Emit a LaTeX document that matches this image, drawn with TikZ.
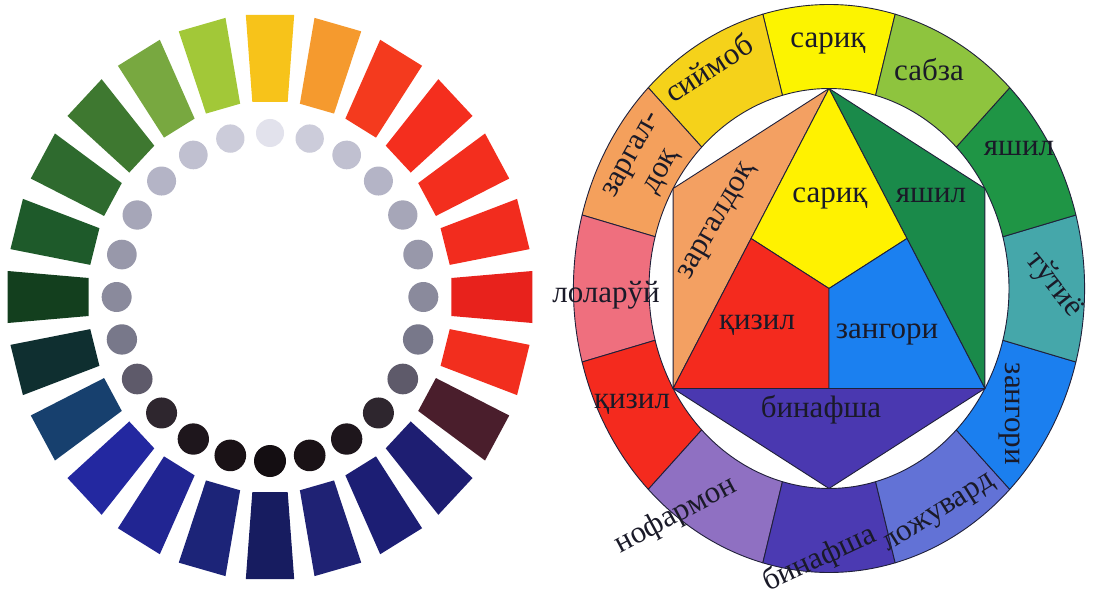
\documentclass[tikz,border=0pt]{standalone}
\usepackage{fontspec}
\setmainfont{Liberation Serif}
\usetikzlibrary{calc}
% left wheel blocks (clockwise from top)
\definecolor{lb0}{HTML}{F7C31A}
\definecolor{lb1}{HTML}{F59A2E}
\definecolor{lb2}{HTML}{F43A1E}
\definecolor{lb3}{HTML}{F42E1E}
\definecolor{lb4}{HTML}{F32E1E}
\definecolor{lb5}{HTML}{F22C1E}
\definecolor{lb6}{HTML}{E8221C}
\definecolor{lb7}{HTML}{F22E1E}
\definecolor{lb8}{HTML}{4A1E2C}
\definecolor{lb9}{HTML}{1E1E72}
\definecolor{lb10}{HTML}{1C1E74}
\definecolor{lb11}{HTML}{1F2274}
\definecolor{lb12}{HTML}{171C60}
\definecolor{lb13}{HTML}{1C2478}
\definecolor{lb14}{HTML}{212592}
\definecolor{lb15}{HTML}{2328A0}
\definecolor{lb16}{HTML}{17406E}
\definecolor{lb17}{HTML}{0F2F30}
\definecolor{lb18}{HTML}{133F1E}
\definecolor{lb19}{HTML}{1E5A2A}
\definecolor{lb20}{HTML}{2E6A2E}
\definecolor{lb21}{HTML}{3E7830}
\definecolor{lb22}{HTML}{78A840}
\definecolor{lb23}{HTML}{A2C838}
% dots
\definecolor{dk0}{HTML}{E2E2EC}
\definecolor{dk1}{HTML}{CCCCDA}
\definecolor{dk2}{HTML}{C0C0D0}
\definecolor{dk3}{HTML}{B4B4C6}
\definecolor{dk4}{HTML}{A6A6B8}
\definecolor{dk5}{HTML}{9898AA}
\definecolor{dk6}{HTML}{8A8A9C}
\definecolor{dk7}{HTML}{78788A}
\definecolor{dk8}{HTML}{5E5A6A}
\definecolor{dk9}{HTML}{2E262E}
\definecolor{dk10}{HTML}{1E161C}
\definecolor{dk11}{HTML}{1A1216}
\definecolor{dk12}{HTML}{140E12}
% right wheel
\definecolor{rYel}{HTML}{FCF400}
\definecolor{rGold}{HTML}{F5D21A}
\definecolor{rOra}{HTML}{F4A05C}
\definecolor{rPink}{HTML}{EF6F7E}
\definecolor{rRed}{HTML}{F42A1E}
\definecolor{rNof}{HTML}{8F70C2}
\definecolor{rPur}{HTML}{4B3AB2}
\definecolor{rLoj}{HTML}{6272D6}
\definecolor{rBlue}{HTML}{1B7FEF}
\definecolor{rTeal}{HTML}{45A7AA}
\definecolor{rGrn}{HTML}{1F9545}
\definecolor{rSab}{HTML}{8EC43E}
\definecolor{iYel}{HTML}{FFF200}
\definecolor{iRed}{HTML}{F42A1E}
\definecolor{iBlue}{HTML}{1B80F0}
\definecolor{iOra}{HTML}{F3A062}
\definecolor{iGrn}{HTML}{1A8A4A}
\definecolor{iPur}{HTML}{4A38B0}
\definecolor{edge}{HTML}{20203A}
\definecolor{txt}{HTML}{1A1A28}
\begin{document}
\begin{tikzpicture}[x=1pt,y=1pt,
  lab/.style={font=\fontsize{31}{36}\selectfont, inner sep=0pt, text height=0.68em, text depth=0.22em, text=txt},
  seg/.style={draw=edge, line width=0.9pt, line join=round}]
\useasboundingbox (0,0) rectangle (1094,598);
\fill[white] (0,0) rectangle (1094,598);
% ---------- left wheel ----------
\begin{scope}[shift={(270,301)}, xscale=0.93]
  \foreach \i in {0,...,23} {
    \begin{scope}[rotate={90-15*\i}]
      \fill[lb\i] (195,-19) -- (282,-26) -- (282,26) -- (195,19) -- cycle;
    \end{scope}
  }
\end{scope}
\foreach \i in {0,...,23} {
  \pgfmathtruncatemacro\k{min(\i,24-\i)}
  \fill[dk\k] ({270+0.935*164*cos(90-15*\i)},{301+164*sin(90-15*\i)}) circle ({14+2*\k/12});
}
% ---------- right wheel ----------
\begin{scope}[shift={(829,309.5)}, xscale=0.9]
  \foreach \a/\c in {90/rYel,120/rGold,150/rOra,180/rPink,210/rRed,240/rNof,270/rPur,300/rLoj,330/rBlue,0/rTeal,30/rGrn,60/rSab} {
    \filldraw[seg, fill=\c] ({\a-15}:284) arc[start angle={\a-15}, end angle={\a+15}, radius=284]
      -- ({\a+15}:200) arc[start angle={\a+15}, end angle={\a-15}, radius=200] -- cycle;
  }
  \coordinate (T) at (90:200);
  \coordinate (UL) at (150:200);
  \coordinate (LL) at (210:200);
  \coordinate (B) at (270:200);
  \coordinate (LR) at (330:200);
  \coordinate (UR) at (30:200);
  \coordinate (C) at (0,0);
  \coordinate (mL) at ($(T)!0.5!(LL)$);
  \coordinate (mR) at ($(T)!0.5!(LR)$);
  \coordinate (mB) at ($(LL)!0.5!(LR)$);
  \filldraw[seg, fill=iOra] (T) -- (UL) -- (LL) -- cycle;
  \filldraw[seg, fill=iGrn] (T) -- (UR) -- (LR) -- cycle;
  \filldraw[seg, fill=iPur] (LL) -- (B) -- (LR) -- cycle;
  \filldraw[seg, fill=iYel] (T) -- (mL) -- (C) -- (mR) -- cycle;
  \filldraw[seg, fill=iRed] (mL) -- (LL) -- (mB) -- (C) -- cycle;
  \filldraw[seg, fill=iBlue] (C) -- (mB) -- (LR) -- (mR) -- cycle;
\end{scope}
% outer labels
\node[lab] (oSariq) at (828,553) {сариқ};
\node[lab, rotate=33] (oSiymob) at (713,523) {сиймоб};
\node[rotate=61, inner sep=0pt, text=txt, align=center, font=\fontsize{31}{34}\selectfont] (oZargal) at (648,434) {заргал-\\доқ};
\node[lab] (oLolaruy) at (606,298) {лоларўй};
\node[lab] (oQizil) at (632,192) {қизил};
\node[lab, rotate=28] (oNofarmon) at (678,78) {нофармон};
\node[lab, rotate=25] (oBinafsha) at (822,34) {бинафша};
\node[lab, rotate=32] (oLojuvard) at (941,82) {ложувард};
\node[lab, rotate=-90] (oZangori) at (1008,184) {зангори};
\node[lab, rotate=-52] (oTutiyo) at (1050,310) {тўтиё};
\node[lab] (oYashil) at (1019,445) {яшил};
\node[lab] (oSabza) at (929,520) {сабза};
% inner labels
\node[lab] (iSariq) at (830,398) {сариқ};
\node[lab] (iYashil) at (931,398) {яшил};
\node[lab, rotate=60] (iZargal) at (720,375) {заргалдоқ};
\node[lab] (iQizil) at (757,271) {қизил};
\node[lab] (iZangori) at (887,262) {зангори};
\node[lab] (iBinafsha) at (821,183) {бинафша};
\end{tikzpicture}
\end{document}
